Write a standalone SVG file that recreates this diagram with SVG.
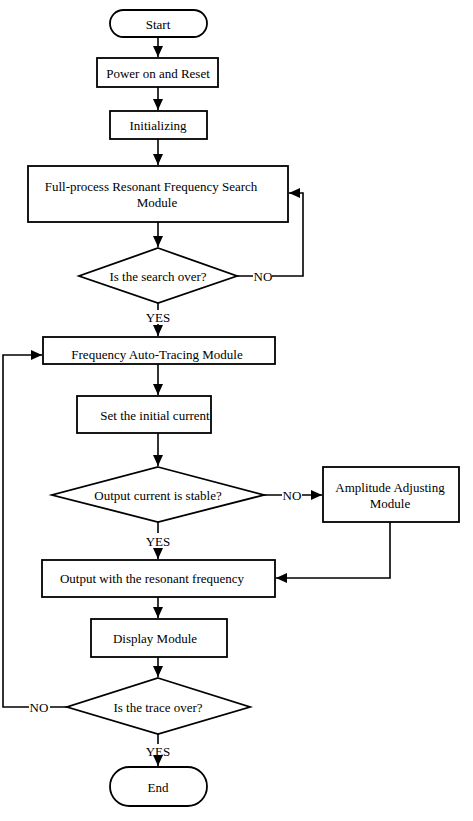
<svg xmlns="http://www.w3.org/2000/svg" width="473" height="821" viewBox="0 0 473 821">
<style>
.s{fill:#fff;stroke:#000;stroke-width:1.8}
.c{fill:none;stroke:#000;stroke-width:1.6}
text{font-family:"Liberation Serif","Times New Roman",serif;font-size:13px;fill:#000;text-anchor:middle;dominant-baseline:central}
</style>
<defs>
<marker id="a" markerUnits="userSpaceOnUse" markerWidth="12" markerHeight="10" refX="11" refY="5" orient="auto">
<path d="M0,0 L11,5 L0,10 Z" fill="#000"/>
</marker>
</defs>
<rect width="473" height="821" fill="#fff"/>
<g id="connectors">
<path class="c" d="M158,37 V57" marker-end="url(#a)"/>
<path class="c" d="M158,87 V110" marker-end="url(#a)"/>
<path class="c" d="M158,139 V165" marker-end="url(#a)"/>
<path class="c" d="M158,222 V247" marker-end="url(#a)"/>
<path class="c" d="M237,276 H253 M272,276 H303 V193 H289" marker-end="url(#a)"/>
<path class="c" d="M158,303 V310 M158,324 V336" marker-end="url(#a)"/>
<path class="c" d="M158,364 V395" marker-end="url(#a)"/>
<path class="c" d="M158,433 V466" marker-end="url(#a)"/>
<path class="c" d="M264,495 H282 M302,495 H322" marker-end="url(#a)"/>
<path class="c" d="M158,522 V533 M158,548 V559" marker-end="url(#a)"/>
<path class="c" d="M390,522 V578 H276" marker-end="url(#a)"/>
<path class="c" d="M158,597 V618" marker-end="url(#a)"/>
<path class="c" d="M158,657 V677" marker-end="url(#a)"/>
<path class="c" d="M67,707 H50 M29,707 H3 V355 H42" marker-end="url(#a)"/>
<path class="c" d="M158,734 V744 M158,758 V766" marker-end="url(#a)"/>
<text x="263" y="276">NO</text>
<text x="158" y="317">YES</text>
<text x="292" y="495">NO</text>
<text x="158" y="541">YES</text>
<text x="39" y="707">NO</text>
<text x="158" y="751">YES</text>
</g>
<g id="start"><rect class="s" x="110" y="10" width="97" height="27" rx="13.5"/><text x="158" y="24">Start</text></g>
<g id="power"><rect class="s" x="97" y="58" width="121" height="29"/><text x="158" y="73">Power on and Reset</text></g>
<g id="init"><rect class="s" x="110" y="111" width="97" height="28"/><text x="158" y="125">Initializing</text></g>
<g id="search"><rect class="s" x="28" y="166" width="260" height="56"/><text x="151" y="186">Full-process Resonant Frequency Search</text><text x="157" y="202">Module</text></g>
<g id="searchover"><polygon class="s" points="158,248 237,276 158,303 79,276"/><text x="158" y="276">Is the search over?</text></g>
<g id="tracing"><rect class="s" x="43" y="337" width="232" height="27"/><text x="157" y="354">Frequency Auto-Tracing Module</text></g>
<g id="setcurrent"><rect class="s" x="77" y="396" width="134" height="37"/><text x="155" y="415">Set the initial current</text></g>
<g id="stable"><polygon class="s" points="158,467 264,495 158,522 52,495"/><text x="158" y="495">Output current is stable?</text></g>
<g id="amplitude"><rect class="s" x="323" y="467" width="136" height="55"/><text x="390" y="487">Amplitude Adjusting</text><text x="390" y="503">Module</text></g>
<g id="output"><rect class="s" x="42" y="560" width="233" height="37"/><text x="152" y="578">Output with the resonant frequency</text></g>
<g id="display"><rect class="s" x="91" y="619" width="136" height="38"/><text x="155" y="638">Display Module</text></g>
<g id="traceover"><polygon class="s" points="158,678 250,707 158,734 67,707"/><text x="158" y="707">Is the trace over?</text></g>
<g id="end"><rect class="s" x="110" y="767" width="97" height="39" rx="19.5"/><text x="158" y="787">End</text></g>
</svg>
